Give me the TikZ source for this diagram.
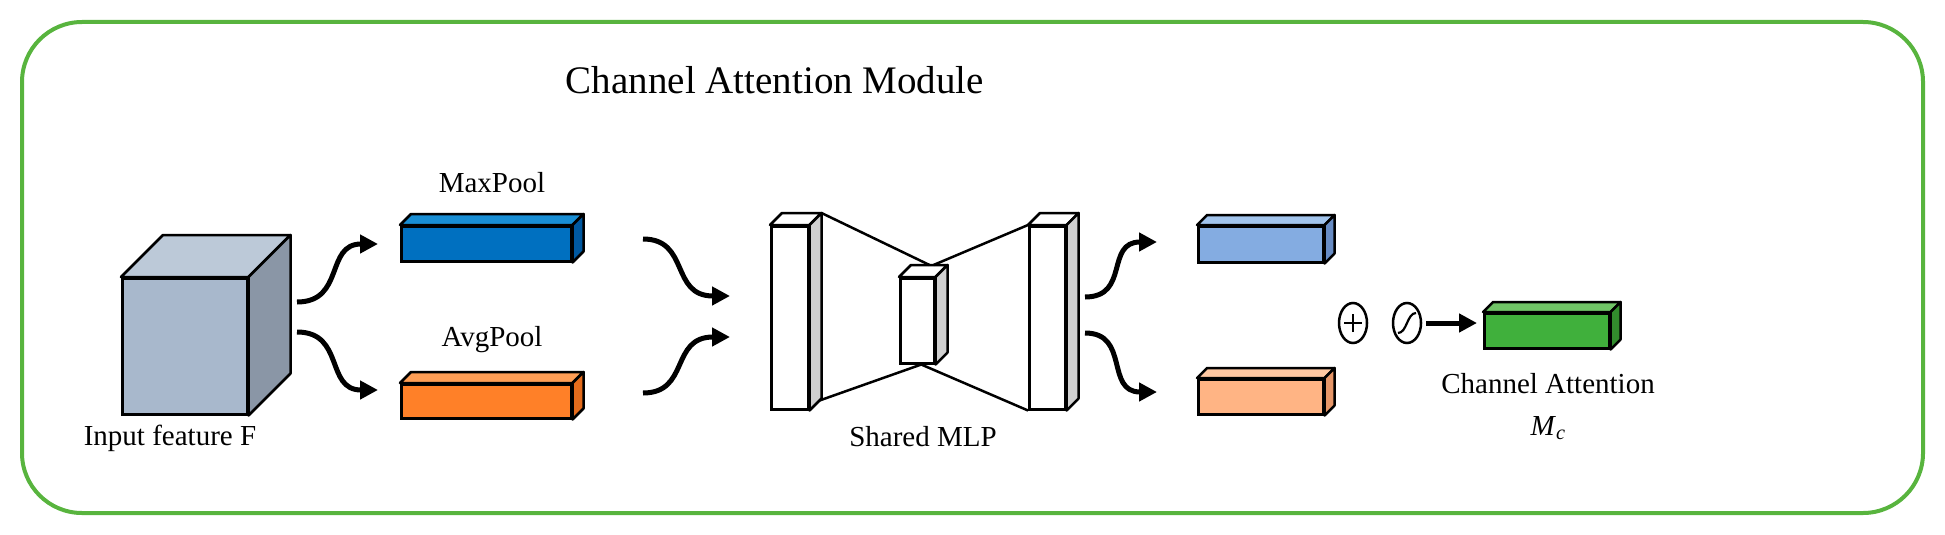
\documentclass[tikz,border=0pt]{standalone}
\usepackage{fontspec}
\setmainfont{Liberation Serif}
\usetikzlibrary{arrows.meta,shapes.geometric}
\definecolor{frame}{RGB}{88,180,62}
\definecolor{cubeF}{RGB}{168,184,204}
\definecolor{cubeT}{RGB}{188,201,216}
\definecolor{cubeS}{RGB}{138,150,166}
\definecolor{mxF}{RGB}{0,112,192}\definecolor{mxT}{RGB}{25,142,212}\definecolor{mxS}{RGB}{0,88,160}
\definecolor{avF}{RGB}{255,128,40}\definecolor{avT}{RGB}{255,158,85}\definecolor{avS}{RGB}{228,108,28}
\definecolor{lbF}{RGB}{132,172,225}\definecolor{lbT}{RGB}{162,196,236}\definecolor{lbS}{RGB}{104,140,196}
\definecolor{saF}{RGB}{255,180,132}\definecolor{saT}{RGB}{255,200,162}\definecolor{saS}{RGB}{230,150,104}
\definecolor{grF}{RGB}{64,176,60}\definecolor{grT}{RGB}{112,196,102}\definecolor{grS}{RGB}{50,140,45}
\definecolor{mlpS}{RGB}{208,208,208}
\newcommand\prism[9]{%
  \node[draw,fill=#7,line width=2.5pt,inner sep=0pt,anchor=north west,
        minimum width={(#4-#2)*1pt},minimum height={(#5-#3)*1pt}] (#1) at (#2,#3) {};
  \filldraw[fill=#8,line width=2.5pt,line join=round] (#1.north west) -- ([shift={(#6,-#6)}]#1.north west)
     -- ([shift={(#6,-#6)}]#1.north east) -- (#1.north east) -- cycle;
  \filldraw[fill=#9,line width=2.5pt,line join=round] (#1.north east) -- ([shift={(#6,-#6)}]#1.north east)
     -- ([shift={(#6,-#6)}]#1.south east) -- (#1.south east) -- cycle;
}
\tikzset{
  lbl/.style={font=\fontsize{29}{32}\selectfont, inner sep=0pt},
  flow/.style={line width=5pt,-{Triangle[length=18pt,width=18pt]}},
}
\begin{document}
\begin{tikzpicture}[x=1pt,y=-1pt]
\useasboundingbox (0,0) rectangle (1945,535);
\draw[frame,line width=4pt,rounded corners=60pt] (22,22) rectangle (1923,513);
\node[font=\fontsize{39}{42}\selectfont] (title) at (775,80) {Channel Attention Module};
% cube
\prism{cube}{121}{277}{246}{413}{42}{cubeF}{cubeT}{cubeS}
\node[lbl,anchor=north] (cubel) at (170,425) {Input feature F};
% pools
\prism{mx}{400}{225}{570}{260}{11}{mxF}{mxT}{mxS}
\node[lbl] (mxl) at (492,183) {MaxPool};
\prism{av}{400}{383}{570}{417}{11}{avF}{avT}{avS}
\node[lbl] (avl) at (492,340) {AvgPool};
% MLP
\prism{m1}{770}{225}{807}{408}{12}{white}{white}{mlpS}
\prism{m2}{899}{277}{933}{362}{12}{white}{white}{mlpS}
\prism{m3}{1028}{225}{1064}{408}{12}{white}{white}{mlpS}
\draw[line width=2.5pt] ([shift={(12,-12)}]m1.north east) -- ([shift={(-6,-12)}]m2.north east);
\draw[line width=2.5pt] (m1.south east) ++(10,-10) -- ([shift={(4,0)}]m2.south);
\draw[line width=2.5pt] (m3.north west) -- ([shift={(-2,-12)}]m2.north east);
\draw[line width=2.5pt] ([shift={(4,0)}]m2.south) -- (m3.south west);
\node[lbl] (mlpl) at (923,437) {Shared MLP};
% outputs
\prism{lb}{1197}{225}{1322}{261}{10}{lbF}{lbT}{lbS}
\prism{sa}{1197}{378}{1322}{413}{10}{saF}{saT}{saS}
\node[draw,ellipse,line width=2.5pt,minimum width=28pt,minimum height=40pt,inner sep=0pt] (plus) at (1353,323) {};
\draw[line width=2.5pt] ([yshift=-9]plus.center) -- ([yshift=9]plus.center) ([xshift=-9]plus.center) -- ([xshift=9]plus.center);
\node[draw,ellipse,line width=2.5pt,minimum width=28pt,minimum height=40pt,inner sep=0pt] (sig) at (1407,323) {};
\draw[line width=2.2pt] ([shift={(-9,10)}]sig.center) .. controls ([shift={(0,10)}]sig.center) and ([shift={(0,-10)}]sig.center) .. ([shift={(9,-10)}]sig.center);
\prism{gr}{1483}{312}{1608}{347}{10}{grF}{grT}{grS}
\node[lbl] (grl) at (1548,384) {Channel Attention};
\node[lbl] (mc) at (1548,428) {\textit{M}\textsubscript{\textit{c}}};
% arrows
\coordinate (c1) at (297,302); \coordinate (c2) at (297,332);
\coordinate (p1) at (378,244); \coordinate (p2) at (378,390);
\coordinate (q1) at (643,239); \coordinate (q2) at (643,393);
\coordinate (r1) at (730,296); \coordinate (r2) at (730,337);
\coordinate (s1) at (1085,297); \coordinate (s2) at (1085,333);
\coordinate (t1) at (1157,242); \coordinate (t2) at (1157,392);
\draw[flow] (c1) .. controls (345,302) and (325,244) .. (p1);
\draw[flow] (c2) .. controls (345,332) and (325,390) .. (p2);
\draw[flow] (q1) .. controls (690,239) and (670,296) .. (r1);
\draw[flow] (q2) .. controls (690,393) and (670,337) .. (r2);
\draw[flow] (s1) .. controls (1130,297) and (1105,242) .. (t1);
\draw[flow] (s2) .. controls (1130,333) and (1105,392) .. (t2);
\draw[flow,shorten <=4pt,shorten >=6pt] (sig.east) -- (sig.east -| gr.west);
\end{tikzpicture}
\end{document}
